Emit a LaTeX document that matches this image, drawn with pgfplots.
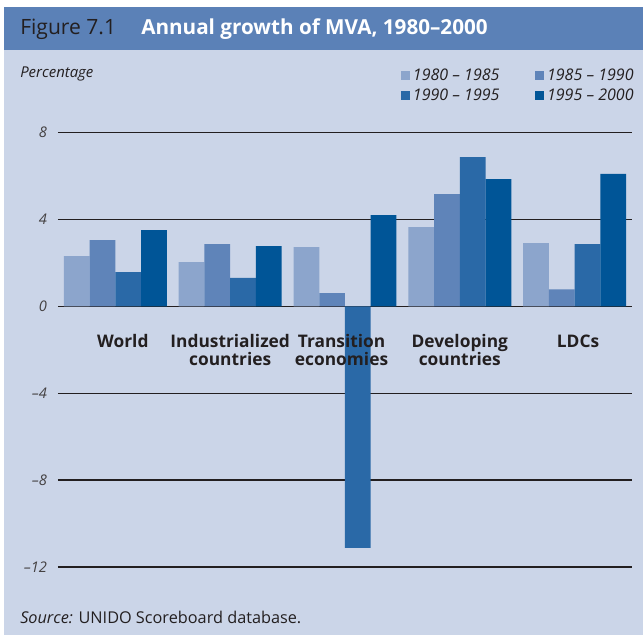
\documentclass[border=0pt]{standalone}
\usepackage{pgfplots}
\pgfplotsset{compat=1.18}
\usepackage{fontspec}
\setmainfont{Open Sans}
\definecolor{bg}{HTML}{CBD5E8}
\definecolor{band}{HTML}{5B81B7}
\definecolor{ca}{HTML}{8CA5CC}
\definecolor{cb}{HTML}{5F84B9}
\definecolor{cc}{HTML}{2A69A7}
\definecolor{cd}{HTML}{005597}
\definecolor{txt}{HTML}{231F20}
\pgfplotsset{mylegend/.style={legend image code/.code={\fill[##1] (0pt,-3.4pt) rectangle (6.75pt,3.4pt);}}}
\begin{document}
\begin{tikzpicture}
\begin{scope}[x=0.75pt,y=0.75pt,shift={(-58,-68)}]
\useasboundingbox (0,0) rectangle (643,635);
\fill[white] (0,0) rectangle (643,635);
\fill[bg] (4,0) rectangle (643,585);
\fill[band] (4,585) rectangle (643,628);
\node[anchor=base west, inner sep=0, text=txt, font=\fontsize{15.8}{18}\selectfont] at (20,600) {Figure 7.1};
\node[anchor=base west, inner sep=0, text=white, font=\fontsize{15.5}{18}\selectfont\bfseries] at (141,600) {Annual growth of MVA, 1980\textendash 2000};
\node[anchor=base west, inner sep=0, text=txt, font=\fontsize{11.2}{13}\selectfont\itshape] at (20,557.7) {Percentage};
\node[anchor=base west, inner sep=0, text=txt, font=\fontsize{12.2}{14}\selectfont] at (20,11.7) {\textit{Source:} UNIDO Scoreboard database.};
\end{scope}
\begin{axis}[
 scale only axis, width=430.5pt, height=325.7pt,
 xmin=-0.5, xmax=4.5, ymin=-12, ymax=8,
 ybar=0pt, bar width=19.3pt,
 axis line style={draw=none},
 xtick=\empty,
 ytick={-12,-8,-4,0,4,8},
 yticklabels={\textendash 12,\textendash 8,\textendash 4,0,4,8},
 major tick length=0pt,
 ymajorgrids, grid style={draw=txt, line width=1pt},
 yticklabel style={font=\fontsize{11}{13}\selectfont\itshape, text=txt!85, anchor=east, inner sep=0pt, xshift=-8pt},
 clip=false,
 legend columns=2,
 legend style={at={(0.5976,1.1536)}, anchor=north west, draw=none, fill=none, inner sep=0pt,
   font=\fontsize{12}{14}\selectfont\itshape, text=txt, row sep=0.5pt,
   /tikz/every even column/.append style={column sep=25pt}},
 legend cell align=left,
]
\addplot[fill=ca, draw=none, mylegend] coordinates {(0,2.32) (1,2.04) (2,2.73) (3,3.65) (4,2.92)};
\addplot[fill=cb, draw=none, mylegend] coordinates {(0,3.05) (1,2.87) (2,0.61) (3,5.17) (4,0.79)};
\addplot[fill=cc, draw=none, mylegend] coordinates {(0,1.58) (1,1.31) (2,-11.12) (3,6.88) (4,2.87)};
\addplot[fill=cd, draw=none, mylegend] coordinates {(0,3.51) (1,2.78) (2,4.21) (3,5.86) (4,6.10)};
\legend{1980 \textendash{} 1985, 1985 \textendash{} 1990, 1990 \textendash{} 1995, 1995 \textendash{} 2000}
\begin{scope}[every node/.style={anchor=base, inner sep=0pt, text=txt, font=\fontsize{13}{15}\selectfont\bfseries}]
\node at (axis cs:0.065,-1.89) {World};
\node at (axis cs:1.0,-1.89) {Industrialized};
\node at (axis cs:1.0,-2.70) {countries};
\node at (axis cs:1.97,-1.89) {Transition};
\node at (axis cs:1.97,-2.70) {economies};
\node at (axis cs:3.0,-1.89) {Developing};
\node at (axis cs:3.0,-2.70) {countries};
\node at (axis cs:4.03,-1.89) {LDCs};
\end{scope}
\end{axis}
\end{tikzpicture}
\end{document}
